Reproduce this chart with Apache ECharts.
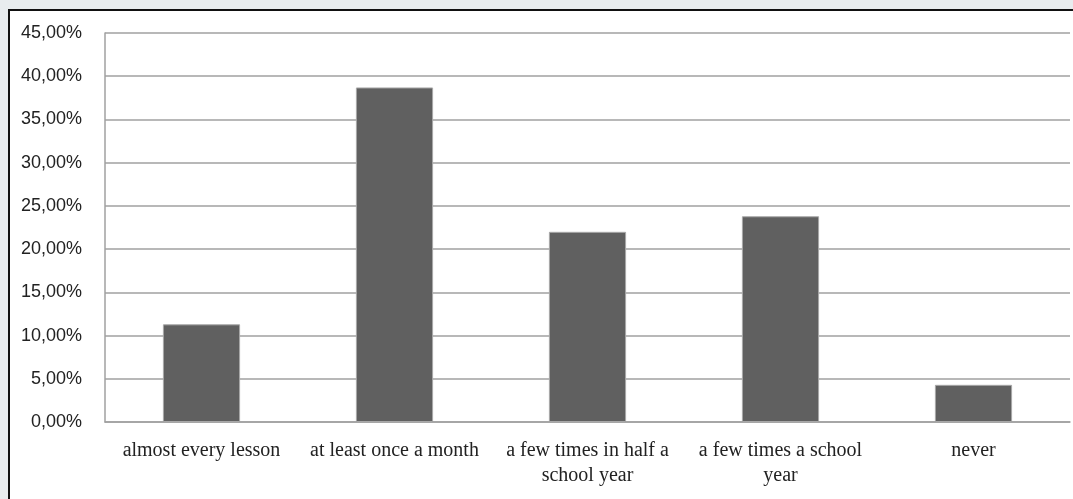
<!DOCTYPE html>
<html>
<head>
<meta charset="utf-8">
<script src="https://cdn.jsdelivr.net/npm/echarts@6/dist/echarts.min.js"></script>
<style>
html,body{margin:0;padding:0;width:1073px;height:499px;overflow:hidden;background:#e8ecee;}
#frame{position:absolute;left:8px;top:9px;width:1065px;height:490px;border-left:2px solid #111;border-top:2px solid #111;background:#fff;}
#chart{width:1065px;height:490px;}
</style>
</head>
<body>
<div id="frame"><div id="chart"></div></div>
<script>
var categories = [
  "almost every lesson",
  "at least once a month",
  "a few times in half a\nschool year",
  "a few times a school\nyear",
  "never"
];
var values = [11.3, 38.7, 22.0, 23.8, 4.3];
var yTicks = { min: 0, max: 45, interval: 5 };

var chart = echarts.init(document.getElementById('chart'));
chart.setOption({
  animation: false,
  grid: { left: 95, right: 5, top: 22, bottom: 79, containLabel: false },
  xAxis: {
    type: 'category',
    data: categories,
    axisLine: { show: true, lineStyle: { color: '#a0a0a0', width: 1.5 } },
    axisTick: { show: false },
    axisLabel: {
      interval: 0,
      margin: 16,
      fontFamily: 'Liberation Serif',
      fontSize: 20,
      lineHeight: 25,
      color: '#222'
    },
    splitLine: { show: false }
  },
  yAxis: {
    type: 'value',
    min: yTicks.min,
    max: yTicks.max,
    interval: yTicks.interval,
    axisLine: { show: true, lineStyle: { color: '#a0a0a0', width: 1.5 } },
    axisTick: { show: false },
    axisLabel: {
      margin: 23,
      fontFamily: 'Liberation Sans',
      fontSize: 18,
      color: '#222',
      formatter: function (v) { return v.toFixed(2).replace('.', ',') + '%'; }
    },
    splitLine: { show: true, lineStyle: { color: '#a0a0a0', width: 1.5 } }
  },
  series: [{
    type: 'bar',
    data: values,
    barWidth: '40%',
    itemStyle: { color: '#606060', borderColor: '#a8a8a8', borderWidth: 1 }
  }]
});
</script>
</body>
</html>
